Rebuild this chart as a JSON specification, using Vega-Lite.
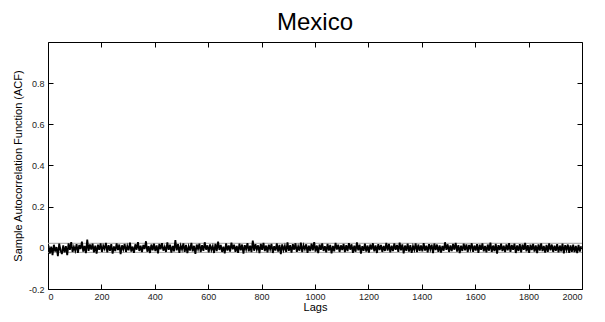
{
"$schema":"https://vega.github.io/schema/vega-lite/v6.json",
"width":534,"height":247,
"autosize":{"type":"none"},
"padding":{"left":48,"top":42,"right":23,"bottom":33},
"background":"white",
"config":{
 "view":{"stroke":"black","strokeWidth":1},
 "font":"Liberation Sans",
 "axis":{"domain":false,"grid":false,"ticks":true,"tickSize":-5,"tickColor":"black","tickWidth":1,
  "labelFont":"Liberation Sans","labelFontSize":9,"labelColor":"#222","titleFont":"Liberation Sans","titleFontSize":11,"titleFontWeight":"normal","titleColor":"black"}
},
"title":{"text":"Mexico","fontSize":24,"fontWeight":"normal","font":"Liberation Sans","color":"black","anchor":"middle","offset":7},
"datasets":{
"bounds":[{"b":0.022},{"b":-0.022}],
"acf":[
{"lag":2,"acf":0.010},{"lag":7,"acf":-0.028},{"lag":12,"acf":0.006},{"lag":17,"acf":-0.035},{"lag":22,"acf":0.015},{"lag":27,"acf":-0.018},{"lag":32,"acf":0.004},{"lag":37,"acf":-0.040},{"lag":42,"acf":0.020},{"lag":47,"acf":-0.012},{"lag":52,"acf":-0.030},{"lag":57,"acf":0.012},{"lag":62,"acf":-0.022},{"lag":67,"acf":0.008},{"lag":72,"acf":-0.036},{"lag":77,"acf":0.022},{"lag":82,"acf":-0.010},{"lag":87,"acf":0.028},{"lag":92,"acf":-0.020},{"lag":97,"acf":0.005},
{"lag":102,"acf":-0.014},{"lag":107,"acf":0.018},{"lag":112,"acf":-0.024},{"lag":117,"acf":0.014},{"lag":122,"acf":-0.006},{"lag":127,"acf":0.030},{"lag":132,"acf":-0.018},{"lag":137,"acf":0.009},{"lag":142,"acf":-0.026},{"lag":147,"acf":0.040},{"lag":152,"acf":-0.015},{"lag":157,"acf":0.016},{"lag":162,"acf":-0.008},{"lag":167,"acf":0.020},{"lag":172,"acf":-0.022},{"lag":177,"acf":0.011},{"lag":182,"acf":-0.028},{"lag":187,"acf":0.015},{"lag":192,"acf":-0.010},{"lag":197,"acf":0.022},
{"lag":202,"acf":-0.020},{"lag":207,"acf":0.010},{"lag":212,"acf":-0.005},{"lag":217,"acf":0.024},{"lag":222,"acf":-0.022},{"lag":227,"acf":0.013},{"lag":232,"acf":-0.014},{"lag":237,"acf":0.018},{"lag":242,"acf":-0.028},{"lag":247,"acf":0.007},{"lag":252,"acf":-0.016},{"lag":257,"acf":0.021},{"lag":262,"acf":-0.011},{"lag":267,"acf":0.016},{"lag":272,"acf":-0.030},{"lag":277,"acf":0.012},{"lag":282,"acf":-0.008},{"lag":287,"acf":0.019},{"lag":292,"acf":-0.020},{"lag":297,"acf":0.009},
{"lag":302,"acf":-0.012},{"lag":307,"acf":0.025},{"lag":312,"acf":-0.018},{"lag":317,"acf":0.006},{"lag":322,"acf":-0.024},{"lag":327,"acf":0.017},{"lag":332,"acf":-0.009},{"lag":337,"acf":0.028},{"lag":342,"acf":-0.015},{"lag":347,"acf":0.010},{"lag":352,"acf":-0.021},{"lag":357,"acf":0.014},{"lag":362,"acf":-0.006},{"lag":367,"acf":0.032},{"lag":372,"acf":-0.019},{"lag":377,"acf":0.008},{"lag":382,"acf":-0.025},{"lag":387,"acf":0.016},{"lag":392,"acf":-0.012},{"lag":397,"acf":0.020},
{"lag":402,"acf":-0.016},{"lag":407,"acf":0.012},{"lag":412,"acf":-0.027},{"lag":417,"acf":0.019},{"lag":422,"acf":-0.007},{"lag":427,"acf":0.023},{"lag":432,"acf":-0.014},{"lag":437,"acf":0.005},{"lag":442,"acf":-0.020},{"lag":447,"acf":0.026},{"lag":452,"acf":-0.010},{"lag":457,"acf":0.015},{"lag":462,"acf":-0.023},{"lag":467,"acf":0.009},{"lag":472,"acf":-0.017},{"lag":477,"acf":0.038},{"lag":482,"acf":-0.012},{"lag":487,"acf":0.018},{"lag":492,"acf":-0.024},{"lag":497,"acf":0.011},
{"lag":502,"acf":-0.008},{"lag":507,"acf":0.021},{"lag":512,"acf":-0.019},{"lag":517,"acf":0.014},{"lag":522,"acf":-0.026},{"lag":527,"acf":0.007},{"lag":532,"acf":-0.013},{"lag":537,"acf":0.024},{"lag":542,"acf":-0.017},{"lag":547,"acf":0.010},{"lag":552,"acf":-0.029},{"lag":557,"acf":0.016},{"lag":562,"acf":-0.006},{"lag":567,"acf":0.020},{"lag":572,"acf":-0.021},{"lag":577,"acf":0.013},{"lag":582,"acf":-0.015},{"lag":587,"acf":0.027},{"lag":592,"acf":-0.009},{"lag":597,"acf":0.012},
{"lag":602,"acf":-0.022},{"lag":607,"acf":0.017},{"lag":612,"acf":-0.011},{"lag":617,"acf":0.008},{"lag":622,"acf":-0.025},{"lag":627,"acf":0.019},{"lag":632,"acf":-0.016},{"lag":637,"acf":0.030},{"lag":642,"acf":-0.010},{"lag":647,"acf":0.014},{"lag":652,"acf":-0.020},{"lag":657,"acf":0.006},{"lag":662,"acf":-0.027},{"lag":667,"acf":0.022},{"lag":672,"acf":-0.013},{"lag":677,"acf":0.011},{"lag":682,"acf":-0.018},{"lag":687,"acf":0.025},{"lag":692,"acf":-0.007},{"lag":697,"acf":0.015},
{"lag":702,"acf":-0.019},{"lag":707,"acf":0.009},{"lag":712,"acf":-0.024},{"lag":717,"acf":0.020},{"lag":722,"acf":-0.012},{"lag":727,"acf":0.016},{"lag":732,"acf":-0.028},{"lag":737,"acf":0.013},{"lag":742,"acf":-0.008},{"lag":747,"acf":0.023},{"lag":752,"acf":-0.017},{"lag":757,"acf":0.010},{"lag":762,"acf":-0.021},{"lag":767,"acf":0.035},{"lag":772,"acf":-0.014},{"lag":777,"acf":0.018},{"lag":782,"acf":-0.009},{"lag":787,"acf":0.012},{"lag":792,"acf":-0.026},{"lag":797,"acf":0.019},
{"lag":802,"acf":-0.010},{"lag":807,"acf":0.024},{"lag":812,"acf":-0.016},{"lag":817,"acf":0.011},{"lag":822,"acf":-0.022},{"lag":827,"acf":0.015},{"lag":832,"acf":-0.007},{"lag":837,"acf":0.019},{"lag":842,"acf":-0.025},{"lag":847,"acf":0.008},{"lag":852,"acf":-0.013},{"lag":857,"acf":0.021},{"lag":862,"acf":-0.018},{"lag":867,"acf":0.014},{"lag":872,"acf":-0.030},{"lag":877,"acf":0.017},{"lag":882,"acf":-0.011},{"lag":887,"acf":0.009},{"lag":892,"acf":-0.020},{"lag":897,"acf":0.026},
{"lag":902,"acf":-0.015},{"lag":907,"acf":0.013},{"lag":912,"acf":-0.023},{"lag":917,"acf":0.018},{"lag":922,"acf":-0.009},{"lag":927,"acf":0.022},{"lag":932,"acf":-0.019},{"lag":937,"acf":0.007},{"lag":942,"acf":-0.014},{"lag":947,"acf":0.025},{"lag":952,"acf":-0.021},{"lag":957,"acf":0.012},{"lag":962,"acf":-0.006},{"lag":967,"acf":0.017},{"lag":972,"acf":-0.024},{"lag":977,"acf":0.010},{"lag":982,"acf":-0.016},{"lag":987,"acf":0.020},{"lag":992,"acf":-0.012},{"lag":997,"acf":0.028},
{"lag":1002,"acf":-0.018},{"lag":1007,"acf":0.011},{"lag":1012,"acf":-0.026},{"lag":1017,"acf":0.016},{"lag":1022,"acf":-0.010},{"lag":1027,"acf":0.021},{"lag":1032,"acf":-0.015},{"lag":1037,"acf":0.008},{"lag":1042,"acf":-0.022},{"lag":1047,"acf":0.019},{"lag":1052,"acf":-0.013},{"lag":1057,"acf":0.014},{"lag":1062,"acf":-0.027},{"lag":1067,"acf":0.009},{"lag":1072,"acf":-0.017},{"lag":1077,"acf":0.024},{"lag":1082,"acf":-0.008},{"lag":1087,"acf":0.015},{"lag":1092,"acf":-0.020},{"lag":1097,"acf":0.012},
{"lag":1102,"acf":-0.011},{"lag":1107,"acf":0.019},{"lag":1112,"acf":-0.021},{"lag":1117,"acf":0.013},{"lag":1122,"acf":-0.016},{"lag":1127,"acf":0.023},{"lag":1132,"acf":-0.009},{"lag":1137,"acf":0.017},{"lag":1142,"acf":-0.024},{"lag":1147,"acf":0.010},{"lag":1152,"acf":-0.019},{"lag":1157,"acf":0.026},{"lag":1162,"acf":-0.012},{"lag":1167,"acf":0.015},{"lag":1172,"acf":-0.028},{"lag":1177,"acf":0.008},{"lag":1182,"acf":-0.014},{"lag":1187,"acf":0.020},{"lag":1192,"acf":-0.018},{"lag":1197,"acf":0.011},
{"lag":1202,"acf":-0.023},{"lag":1207,"acf":0.016},{"lag":1212,"acf":-0.008},{"lag":1217,"acf":0.022},{"lag":1222,"acf":-0.017},{"lag":1227,"acf":0.012},{"lag":1232,"acf":-0.025},{"lag":1237,"acf":0.018},{"lag":1242,"acf":-0.011},{"lag":1247,"acf":0.014},{"lag":1252,"acf":-0.020},{"lag":1257,"acf":0.009},{"lag":1262,"acf":-0.015},{"lag":1267,"acf":0.024},{"lag":1272,"acf":-0.013},{"lag":1277,"acf":0.019},{"lag":1282,"acf":-0.022},{"lag":1287,"acf":0.010},{"lag":1292,"acf":-0.016},{"lag":1297,"acf":0.021},
{"lag":1302,"acf":-0.009},{"lag":1307,"acf":0.014},{"lag":1312,"acf":-0.019},{"lag":1317,"acf":0.025},{"lag":1322,"acf":-0.012},{"lag":1327,"acf":0.017},{"lag":1332,"acf":-0.027},{"lag":1337,"acf":0.011},{"lag":1342,"acf":-0.014},{"lag":1347,"acf":0.020},{"lag":1352,"acf":-0.018},{"lag":1357,"acf":0.013},{"lag":1362,"acf":-0.024},{"lag":1367,"acf":0.008},{"lag":1372,"acf":-0.010},{"lag":1377,"acf":0.022},{"lag":1382,"acf":-0.021},{"lag":1387,"acf":0.016},{"lag":1392,"acf":-0.015},{"lag":1397,"acf":0.012},
{"lag":1402,"acf":-0.017},{"lag":1407,"acf":0.023},{"lag":1412,"acf":-0.013},{"lag":1417,"acf":0.010},{"lag":1422,"acf":-0.022},{"lag":1427,"acf":0.018},{"lag":1432,"acf":-0.008},{"lag":1437,"acf":0.015},{"lag":1442,"acf":-0.026},{"lag":1447,"acf":0.021},{"lag":1452,"acf":-0.011},{"lag":1457,"acf":0.016},{"lag":1462,"acf":-0.019},{"lag":1467,"acf":0.012},{"lag":1472,"acf":-0.023},{"lag":1477,"acf":0.009},{"lag":1482,"acf":-0.014},{"lag":1487,"acf":0.027},{"lag":1492,"acf":-0.010},{"lag":1497,"acf":0.017},
{"lag":1502,"acf":-0.020},{"lag":1507,"acf":0.012},{"lag":1512,"acf":-0.016},{"lag":1517,"acf":0.019},{"lag":1522,"acf":-0.009},{"lag":1527,"acf":0.024},{"lag":1532,"acf":-0.018},{"lag":1537,"acf":0.013},{"lag":1542,"acf":-0.025},{"lag":1547,"acf":0.010},{"lag":1552,"acf":-0.015},{"lag":1557,"acf":0.020},{"lag":1562,"acf":-0.012},{"lag":1567,"acf":0.017},{"lag":1572,"acf":-0.021},{"lag":1577,"acf":0.014},{"lag":1582,"acf":-0.007},{"lag":1587,"acf":0.022},{"lag":1592,"acf":-0.019},{"lag":1597,"acf":0.011},
{"lag":1602,"acf":-0.013},{"lag":1607,"acf":0.018},{"lag":1612,"acf":-0.024},{"lag":1617,"acf":0.015},{"lag":1622,"acf":-0.010},{"lag":1627,"acf":0.021},{"lag":1632,"acf":-0.017},{"lag":1637,"acf":0.009},{"lag":1642,"acf":-0.022},{"lag":1647,"acf":0.016},{"lag":1652,"acf":-0.014},{"lag":1657,"acf":0.025},{"lag":1662,"acf":-0.020},{"lag":1667,"acf":0.011},{"lag":1672,"acf":-0.016},{"lag":1677,"acf":0.019},{"lag":1682,"acf":-0.028},{"lag":1687,"acf":0.013},{"lag":1692,"acf":-0.011},{"lag":1697,"acf":0.020},
{"lag":1702,"acf":-0.016},{"lag":1707,"acf":0.010},{"lag":1712,"acf":-0.021},{"lag":1717,"acf":0.017},{"lag":1722,"acf":-0.012},{"lag":1727,"acf":0.023},{"lag":1732,"acf":-0.019},{"lag":1737,"acf":0.014},{"lag":1742,"acf":-0.009},{"lag":1747,"acf":0.020},{"lag":1752,"acf":-0.025},{"lag":1757,"acf":0.012},{"lag":1762,"acf":-0.015},{"lag":1767,"acf":0.018},{"lag":1772,"acf":-0.022},{"lag":1777,"acf":0.016},{"lag":1782,"acf":-0.010},{"lag":1787,"acf":0.024},{"lag":1792,"acf":-0.017},{"lag":1797,"acf":0.013},
{"lag":1802,"acf":-0.024},{"lag":1807,"acf":0.015},{"lag":1812,"acf":-0.011},{"lag":1817,"acf":0.019},{"lag":1822,"acf":-0.018},{"lag":1827,"acf":0.012},{"lag":1832,"acf":-0.026},{"lag":1837,"acf":0.017},{"lag":1842,"acf":-0.013},{"lag":1847,"acf":0.021},{"lag":1852,"acf":-0.016},{"lag":1857,"acf":0.009},{"lag":1862,"acf":-0.023},{"lag":1867,"acf":0.014},{"lag":1872,"acf":-0.019},{"lag":1877,"acf":0.022},{"lag":1882,"acf":-0.012},{"lag":1887,"acf":0.016},{"lag":1892,"acf":-0.020},{"lag":1897,"acf":0.010},
{"lag":1902,"acf":-0.014},{"lag":1907,"acf":0.018},{"lag":1912,"acf":-0.022},{"lag":1917,"acf":0.011},{"lag":1922,"acf":-0.017},{"lag":1927,"acf":0.020},{"lag":1932,"acf":-0.027},{"lag":1937,"acf":0.013},{"lag":1942,"acf":-0.010},{"lag":1947,"acf":0.016},{"lag":1952,"acf":-0.024},{"lag":1957,"acf":0.012},{"lag":1962,"acf":-0.019},{"lag":1967,"acf":0.015},{"lag":1972,"acf":-0.021},{"lag":1977,"acf":0.009},{"lag":1982,"acf":-0.026},{"lag":1987,"acf":0.014},{"lag":1992,"acf":-0.018},{"lag":1997,"acf":0.008}
]},
"layer":[
 {"data":{"name":"bounds"},
  "mark":{"type":"rule","color":"#a0a0a0","strokeWidth":1},
  "encoding":{
   "x":{"datum":0,"type":"quantitative","scale":{"domain":[0,2000],"nice":false},
        "axis":{"orient":"top","labels":false,"title":null,"values":[0,200,400,600,800,1000,1200,1400,1600,1800,2000]}},
   "x2":{"datum":2000},
   "y":{"field":"b","type":"quantitative","scale":{"domain":[-0.2,1],"nice":false,"zero":false},
        "axis":{"orient":"right","labels":false,"title":null,"values":[-0.2,0,0.2,0.4,0.6,0.8]}}
  }},
 {"data":{"name":"acf"},
  "mark":{"type":"line","color":"black","strokeWidth":1.8,"clip":true},
  "encoding":{
   "x":{"field":"lag","type":"quantitative","scale":{"domain":[0,2000],"nice":false},
        "axis":{"orient":"bottom","title":"Lags","format":"d","values":[0,200,400,600,800,1000,1200,1400,1600,1800,2000],"labelPadding":8,"titlePadding":0}},
   "y":{"field":"acf","type":"quantitative","scale":{"domain":[-0.2,1],"nice":false,"zero":false},
        "axis":{"orient":"left","title":"Sample Autocorrelation Function (ACF)","values":[-0.2,0,0.2,0.4,0.6,0.8],
          "labelExpr":"datum.value < 0 ? '-' + format(-datum.value, '.1f') : (datum.value == 0 ? '0' : format(datum.value, '.1f'))","labelPadding":9,"titlePadding":5}}
  }}
],
"resolve":{"axis":{"x":"independent","y":"independent"}}
}
